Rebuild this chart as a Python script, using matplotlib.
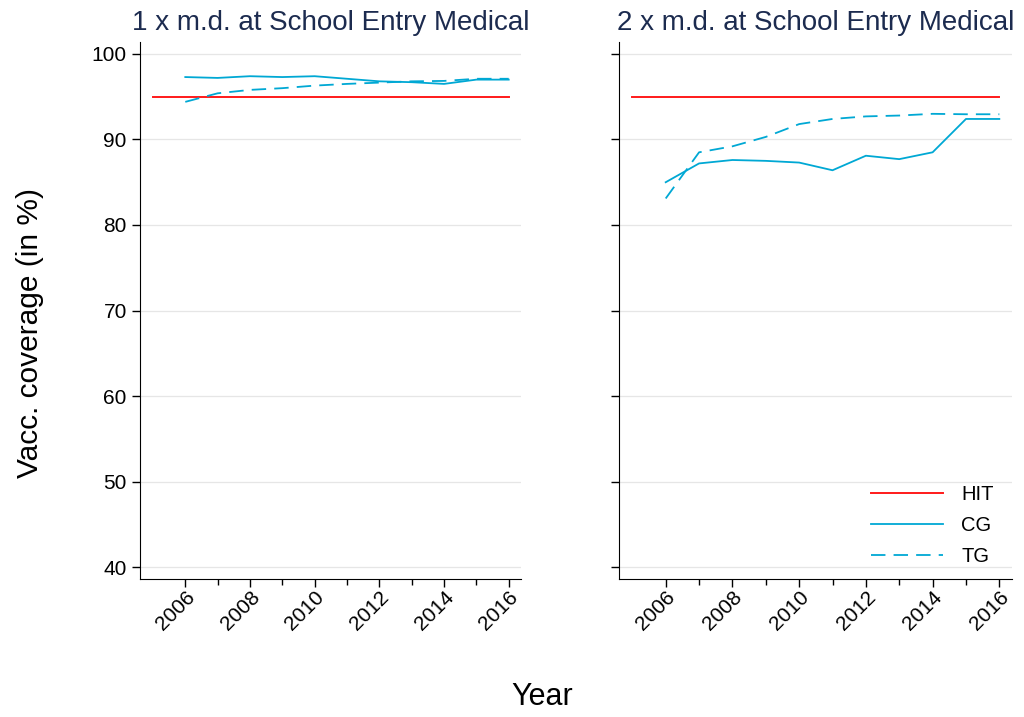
import numpy as np
import matplotlib.pyplot as plt
from matplotlib.ticker import FixedLocator

plt.rcParams['font.family'] = ['Liberation Sans', 'DejaVu Sans']

years = [2006, 2007, 2008, 2009, 2010, 2011, 2012, 2013, 2014, 2015, 2016]
hit_years = [2005, 2016]
hit = [95, 95]

cg_1 = [97.3, 97.2, 97.4, 97.3, 97.4, 97.1, 96.8, 96.7, 96.5, 97.0, 97.0]
tg_1 = [94.4, 95.4, 95.8, 96.0, 96.3, 96.5, 96.65, 96.8, 96.85, 97.1, 97.1]
cg_2 = [85.0, 87.2, 87.6, 87.5, 87.3, 86.4, 88.1, 87.7, 88.5, 92.4, 92.4]
tg_2 = [83.1, 88.5, 89.2, 90.3, 91.8, 92.4, 92.7, 92.8, 93.0, 92.95, 92.95]

titles = ['1 x m.d. at School Entry Medical', '2 x m.d. at School Entry Medical']
series = [(cg_1, tg_1), (cg_2, tg_2)]

red = '#ff1a1a'
cyan = '#00a8d4'
navy = '#1c2b4f'

fig = plt.figure(figsize=(10.24, 7.17), dpi=100)
ax1 = fig.add_axes([140 / 1024, 1 - 579 / 717, 381 / 1024, 537 / 717])
ax2 = fig.add_axes([619 / 1024, 1 - 579 / 717, 393 / 1024, 537 / 717])

for ax, title, (cg, tg) in zip([ax1, ax2], titles, series):
    ax.plot(hit_years, hit, color=red, lw=1.4, label='HIT')
    ax.plot(years, cg, color=cyan, lw=1.3, label='CG')
    ax.plot(years, tg, color=cyan, lw=1.3, ls=(0, (8, 4.5)), label='TG')
    ax.set_xlim(2004.6, 2016.38)
    ax.set_ylim(38.6, 101.4)
    ax.set_yticks([40, 50, 60, 70, 80, 90, 100])
    ax.set_xticks([2006, 2008, 2010, 2012, 2014, 2016])
    ax.xaxis.set_minor_locator(FixedLocator([2007, 2009, 2011, 2013, 2015]))
    ax.tick_params(axis='x', which='minor', length=4, width=1)
    ax.tick_params(axis='both', which='major', length=6, width=1, labelsize=15)
    ax.tick_params(axis='x', which='major', pad=0)
    for lab in ax.get_xticklabels():
        lab.set_rotation(45)
        lab.set_ha('right')
        lab.set_rotation_mode('anchor')
    ax.grid(axis='y', color='#e6e6e6', lw=0.9)
    ax.set_axisbelow(True)
    ax.spines['top'].set_visible(False)
    ax.spines['right'].set_visible(False)
    ax.set_title(title, fontsize=20, color=navy, pad=9)

ax2.tick_params(axis='y', labelleft=False)
ax2.legend(loc='lower right', frameon=False, fontsize=14.5, handlelength=3.6,
           handletextpad=0.9, labelspacing=0.6, bbox_to_anchor=(1.0, -0.01))

fig.text(30 / 1024, 1 - 333 / 717, 'Vacc. coverage (in %)', rotation=90,
         fontsize=21.5, ha='center', va='center')
fig.text(542 / 1024, 1 - 697 / 717, 'Year', fontsize=22, ha='center', va='center')

fig.savefig('out.png', dpi=100)
